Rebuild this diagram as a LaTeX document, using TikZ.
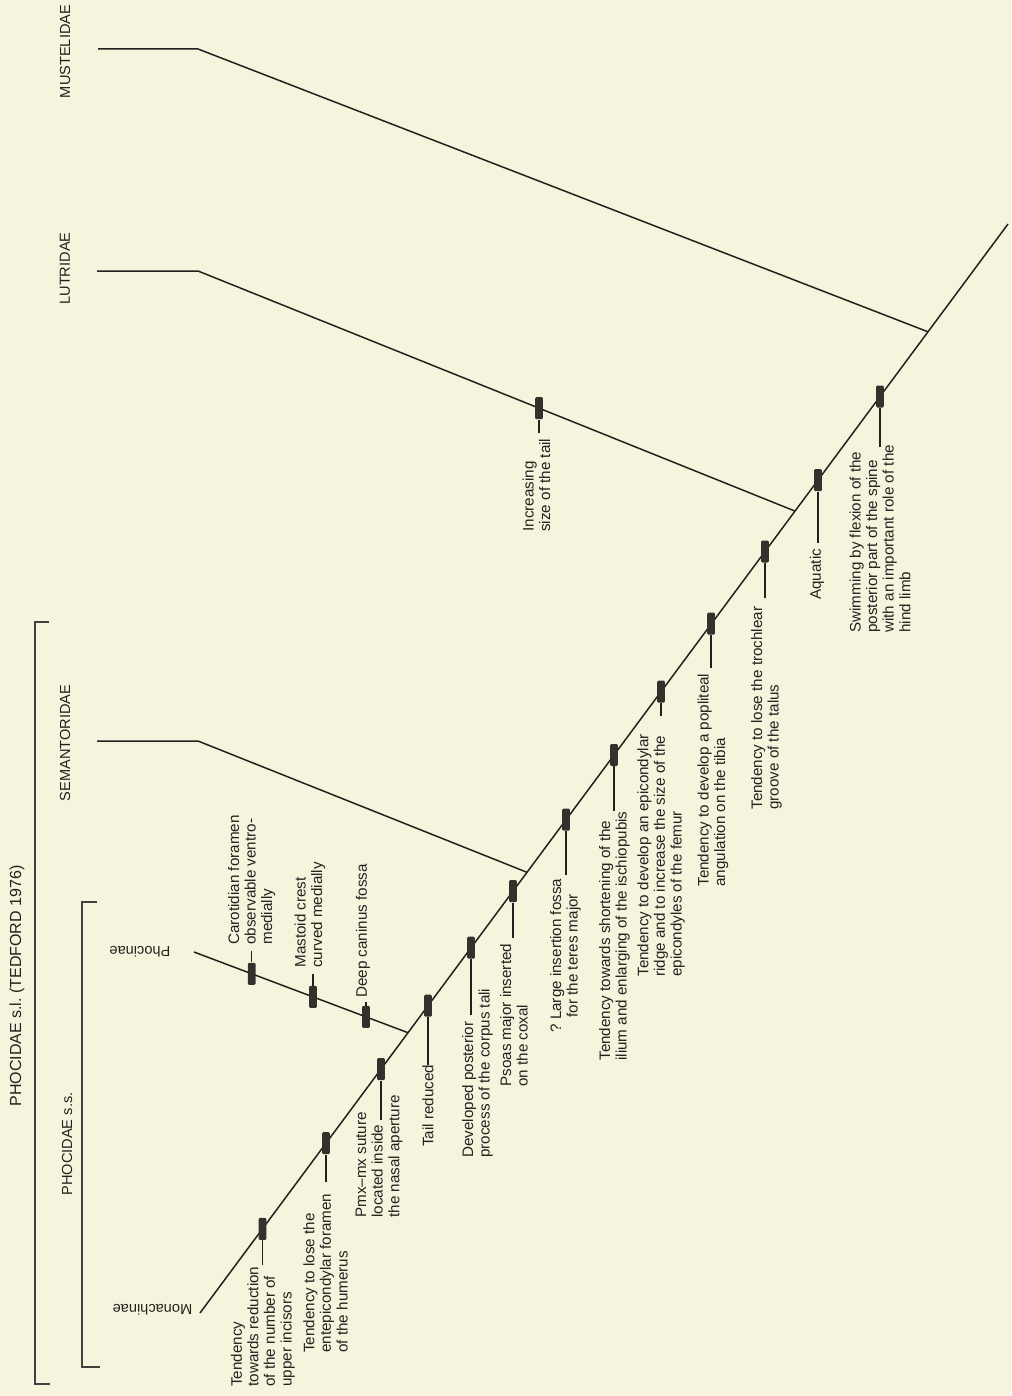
\documentclass[tikz,border=0pt]{standalone}
\usepackage{fontspec}
\setmainfont{Liberation Sans}
\usetikzlibrary{calc}
\definecolor{paper}{RGB}{247,244,222}
\definecolor{ink}{RGB}{35,33,30}
\definecolor{barc}{RGB}{52,48,44}
\frenchspacing
\begin{document}
\begin{tikzpicture}[x=0.5pt,y=-0.5pt,
  branch/.style={draw=ink,line width=0.75pt},
  tickline/.style={draw=ink,line width=0.55pt},
  bracket/.style={draw=ink!85,line width=0.75pt},
  charbar/.style={fill=barc,draw=none,minimum width=3.9pt,minimum height=11pt,inner sep=0pt,rounded corners=0.6pt},
  charlbl/.style={rotate=90,align=left,anchor=west,inner sep=0pt,text=ink,font=\fontsize{7.6}{8.3}\selectfont},
  taxon/.style={rotate=90,inner sep=0pt,text=ink,font=\fontsize{7.3}{8.5}\selectfont},
  subfam/.style={rotate=180,inner sep=0pt,text=ink,font=\fontsize{7.3}{8.5}\selectfont},
]
\fill[paper] (0,0) rectangle (1011,1396);
\useasboundingbox (0,0) rectangle (1011,1396);

% ---------- taxon labels ----------
\node[taxon] (mus) at (65,51.5) {MUSTELIDAE};
\node[taxon] (lut) at (65,268.5) {LUTRIDAE};
\node[taxon] (sem) at (65,743) {SEMANTORIDAE};
\node[taxon,font=\fontsize{8}{9}\selectfont] (psl) at (17,986) {PHOCIDAE s.l. (TEDFORD 1976)};
\node[taxon] (pss) at (67,1144) {PHOCIDAE s.s.};
\node[subfam] (mon) at (152.5,1310) {Monachinae};
\node[subfam] (phn) at (140,952) {Phocinae};

% ---------- brackets ----------
\coordinate (o1) at (49,622);
\coordinate (o2) at (35,622);
\coordinate (o3) at (35,1384);
\coordinate (o4) at (50,1384);
\draw[bracket] (o1) -- (o2) -- (o3) -- (o4);
\coordinate (i1) at (97,902);
\coordinate (i2) at (82,902);
\coordinate (i3) at (82,1367);
\coordinate (i4) at (100,1367);
\draw[bracket] (i1) -- (i2) -- (i3) -- (i4);

% ---------- tree ----------
\coordinate (root) at (200,1313);
\coordinate (jPho) at (408,1032.7);
\coordinate (jSem) at (527,872.3);
\coordinate (jLut) at (795,511.1);
\coordinate (jMus) at (928,331.8);
\coordinate (tip)  at (1008,224);
\draw[branch] (root) -- (jPho) -- (jSem) -- (jLut) -- (jMus) -- (tip);

\coordinate (phoEnd) at (194,952);
\draw[branch] (phoEnd) -- (jPho);

\coordinate (semA) at (97,741);
\coordinate (semB) at (198,741);
\draw[branch] (semA) -- (semB) -- (jSem);

\coordinate (lutA) at (97,271);
\coordinate (lutB) at (198,271);
\draw[branch] (lutA) -- (lutB) -- (jLut);

\coordinate (musA) at (98,49);
\coordinate (musB) at (198,49);
\draw[branch] (musA) -- (musB) -- (jMus);

% ---------- character bars on trunk ----------
\node[charbar] (b1)  at (262.5,1228.8) {};
\node[charbar] (b2)  at (326,1143.2) {};
\node[charbar] (b3)  at (381,1069.1) {};
\node[charbar] (b4)  at (428,1005.7) {};
\node[charbar] (b5)  at (471,947.7) {};
\node[charbar] (b6)  at (513,891.1) {};
\node[charbar] (b7)  at (566,819.7) {};
\node[charbar] (b8)  at (614,755) {};
\node[charbar] (b9)  at (661,691.7) {};
\node[charbar] (b10) at (711,623.7) {};
\node[charbar] (b11) at (765,551.5) {};
\node[charbar] (b12) at (818,480.1) {};
\node[charbar] (b13) at (880,396.5) {};
% Phocinae branch
\node[charbar] (ba) at (251.7,973.8) {};
\node[charbar] (bb) at (313,996.9) {};
\node[charbar] (bc) at (366,1016.9) {};
% Lutridae branch
\node[charbar] (bl) at (539,408.2) {};

% ---------- labels ----------
\node[charlbl] (l1) at (262.75,1387) {Tendency\\towards reduction\\of the number of\\upper incisors};
\node[charlbl] (l2) at (325.5,1353) {Tendency to lose the\\entepicondylar foramen\\of the humerus};
\node[charlbl] (l3) at (379,1218) {Pmx–mx suture\\located inside\\the nasal aperture};
\node[charlbl] (l4) at (428,1147) {Tail reduced};
\node[charlbl] (l5) at (477.5,1158) {Developed posterior\\process of the corpus tali};
\node[charlbl] (l6) at (514,1087) {Psoas major inserted\\on the coxal};
\node[charlbl,align=center] (l7) at (565.5,1033) {? Large insertion fossa\\for the teres major};
\node[charlbl] (l8) at (614.5,1061) {Tendency towards shortening of the\\ilium and enlarging of the ischiopubis};
\node[charlbl] (l9) at (661,977) {Tendency to develop an epicondylar\\ridge and to increase the size of the\\epicondyles of the femur};
\node[charlbl] (l10) at (713,887) {Tendency to develop a popliteal\\angulation on the tibia};
\node[charlbl] (l11) at (766.5,810) {Tendency to lose the trochlear\\groove of the talus};
\node[charlbl] (l12) at (817,600) {Aquatic};
\node[charlbl] (l13) at (880,633) {Swimming by flexion of the\\posterior part of the spine\\with an important role of the\\hind limb};
\node[charlbl] (la) at (251.7,945) {Carotidian foramen\\observable ventro-\\medially};
\node[charlbl] (lb) at (310,968) {Mastoid crest\\curved medially};
\node[charlbl] (lc) at (363,998) {Deep caninus fossa};
\node[charlbl] (ll) at (536.5,532) {Increasing\\size of the tail};

% ---------- ticks ----------
\coordinate (t1) at (262.5,1265);
\coordinate (t2) at (326,1182);
\coordinate (t3) at (381,1120);
\coordinate (t4) at (428,1065);
\coordinate (t5) at (471,1015);
\coordinate (t6) at (513,938);
\coordinate (t7) at (566,875);
\coordinate (t8) at (614,811);
\coordinate (t9) at (661,716);
\coordinate (t10) at (711,668);
\coordinate (t11) at (765,598);
\coordinate (t12) at (818,543);
\coordinate (t13) at (880,447);
\coordinate (ta) at (251.7,951);
\coordinate (tb) at (313,974);
\coordinate (tc) at (366,1002);
\coordinate (tl) at (539,433);
\foreach \i in {1,...,13} {\draw[tickline] (b\i.south) -- (t\i);}
\draw[tickline] (ba.north) -- (ta);
\draw[tickline] (bb.north) -- (tb);
\draw[tickline] (bc.north) -- (tc);
\draw[tickline] (bl.south) -- (tl);
\end{tikzpicture}
\end{document}
